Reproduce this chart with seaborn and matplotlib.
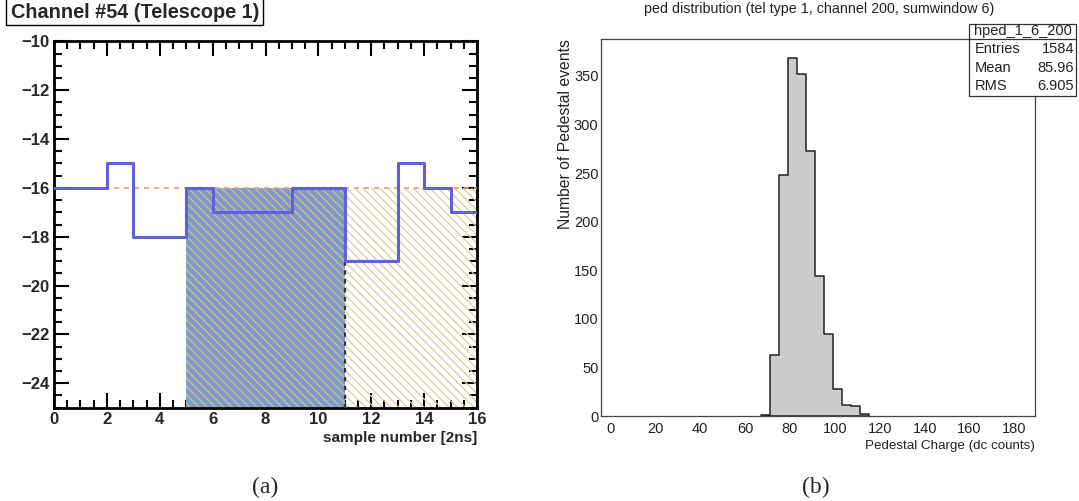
import numpy as np
import pandas as pd
import matplotlib
matplotlib.use("Agg")
import matplotlib.pyplot as plt
from matplotlib.patches import Rectangle
from matplotlib.ticker import MultipleLocator
import seaborn as sns

# (a) FADC trace of one channel, one value per sample
samples = np.arange(0, 17)
trace = [-16, -16, -15, -18, -18, -16, -17, -17, -17, -16, -16, -19, -19, -15, -16, -17]
pedestal = -16
window = (5, 11)      # integration window
tail = (11, 16)       # rest of the trace

# (b) pedestal distribution, 4 dc-count bins
ped_edges = list(range(67, 116, 4))
ped_counts = [1, 63, 248, 368, 352, 273, 144, 84, 28, 11, 10, 2]
stats_name = "hped_1_6_200"
stats_rows = [("Entries", "1584"), ("Mean", "85.96"), ("RMS", "6.905")]

sns.set_style("white")
plt.rcParams["font.family"] = ["Liberation Sans", "DejaVu Sans"]
plt.rcParams["hatch.linewidth"] = 0.9

fig = plt.figure(figsize=(10.79, 5.01), dpi=100)
W, H = 1079, 501

def px_axes(l, t, r, b):
    return fig.add_axes([l / W, 1 - b / H, (r - l) / W, (b - t) / H])

# ---------------- panel (a) ----------------
ax1 = px_axes(54, 41.3, 477, 407.7)
ax1.set_xlim(0, 16)
ax1.set_ylim(-25, -10)

# shaded regions under the pedestal level
ax1.fill_between(window, -25, pedestal, color="#7f9acb", lw=0, zorder=1)
ax1.fill_between(window, -25, pedestal, facecolor="none", edgecolor="#cfc48a",
                 hatch="\\" * 4, lw=0, zorder=2)
ax1.fill_between(tail, -25, pedestal, facecolor="none", edgecolor="#d8cf98",
                 hatch="\\" * 4, lw=0, zorder=2)
ax1.axhline(pedestal, color="#e0a080", ls=(0, (3, 3)), lw=1.2, zorder=3)
ax1.plot([window[1], window[1]], [-25, pedestal], color="#333333",
         ls=(0, (2, 2)), lw=1.6, zorder=4)

df_a = pd.DataFrame({"sample": samples, "adc": trace + [trace[-1]]})
sns.lineplot(data=df_a, x="sample", y="adc", drawstyle="steps-post",
             color="#6060d8", lw=2.2, ax=ax1, zorder=5)

ax1.set_ylabel("")
ax1.set_xlabel("sample number [2ns]", fontsize=11, fontweight="bold",
               ha="right", x=1.0, labelpad=3)
ax1.xaxis.set_major_locator(MultipleLocator(2))
ax1.xaxis.set_minor_locator(MultipleLocator(0.5))
ax1.yaxis.set_major_locator(MultipleLocator(2))
ax1.yaxis.set_minor_locator(MultipleLocator(0.5))
ax1.tick_params(which="both", direction="in", top=True, right=True,
                bottom=True, left=True, width=1.5, color="black")
ax1.tick_params(which="major", length=11, labelsize=12, pad=3)
ax1.tick_params(which="minor", length=6)
ax1.set_yticks(np.arange(-24, -9, 2))
ax1.set_yticklabels([f"\u2212{abs(v)}" for v in range(-24, -9, 2)])
for lab in ax1.get_xticklabels() + ax1.get_yticklabels():
    lab.set_fontweight("bold")
for s in ax1.spines.values():
    s.set_linewidth(2)
    s.set_color("black")

fig.text(11 / W, 1 - 12 / H, "Channel #54 (Telescope 1)", fontsize=14.3,
         fontweight="bold", va="center", ha="left")
fig.patches.append(Rectangle((6.3 / W, 1 - 24.5 / H), (263 - 6.3) / W, 26 / H,
                             transform=fig.transFigure, fill=False,
                             edgecolor="black", lw=1))

# ---------------- panel (b) ----------------
ax2 = px_axes(601.3, 38.9, 1035.2, 416)
centers = [e + 2 for e in ped_edges[:-1]]
df_b = pd.DataFrame({"charge": centers, "n": ped_counts})
sns.histplot(data=df_b, x="charge", weights="n", bins=ped_edges,
             element="step", color="#cccccc", alpha=1, edgecolor="#222222",
             linewidth=1.1, ax=ax2)
ax2.set_xlim(-4, 189.2)
ax2.set_ylim(0, 388)
ax2.xaxis.set_major_locator(MultipleLocator(20))
ax2.xaxis.set_minor_locator(MultipleLocator(5))
ax2.yaxis.set_major_locator(MultipleLocator(50))
ax2.yaxis.set_minor_locator(MultipleLocator(10))
ax2.tick_params(which="both", direction="in", color="#444444", width=0.9,
                labelsize=10.5, labelcolor="#222222")
ax2.tick_params(axis="y", which="major", length=14, pad=2)
ax2.tick_params(axis="y", which="minor", length=7.5)
ax2.tick_params(axis="x", which="major", length=11, pad=4)
ax2.tick_params(axis="x", which="minor", length=6.5)
for s in ax2.spines.values():
    s.set_linewidth(0.9)
    s.set_color("#444444")
ax2.set_xlabel("Pedestal Charge (dc counts)", fontsize=9.6, ha="right", x=1.0,
               labelpad=3, color="#222222")
ax2.set_ylabel("Number of Pedestal events", fontsize=11.3, ha="right", y=1.0,
               labelpad=1, color="#222222")
fig.text(819 / W, 1 - 9 / H, "ped distribution (tel type 1, channel 200, sumwindow 6)",
         fontsize=10.3, ha="center", va="center", color="#222222")

# stats box
bx0, bx1, by0, by1, byh = 969, 1076, 24.3, 96, 39
fig.patches.append(Rectangle((bx0 / W, 1 - by1 / H), (bx1 - bx0) / W, (by1 - by0) / H,
                             transform=fig.transFigure, facecolor="white",
                             edgecolor="#333333", lw=0.9, zorder=10))
fig.lines.append(plt.Line2D([bx0 / W, bx1 / W], [1 - byh / H, 1 - byh / H],
                            transform=fig.transFigure, color="#333333", lw=0.9,
                            zorder=11))
fig.text((bx0 + bx1) / 2 / W, 1 - 31.5 / H, stats_name, fontsize=10.5,
         ha="center", va="center", color="#222222", zorder=12)
for i, (k, v) in enumerate(stats_rows):
    yy = 1 - (49 + i * 18.5) / H
    fig.text((bx0 + 6) / W, yy, k, fontsize=10.5, ha="left", va="center",
             color="#222222", zorder=12)
    fig.text((bx1 - 2) / W, yy, v, fontsize=10.5, ha="right", va="center",
             color="#222222", zorder=12)

# captions
fig.text(265 / W, 1 - 487 / H, "(a)", fontsize=17, ha="center", va="center",
         family=["Liberation Serif", "DejaVu Serif"])
fig.text(815.5 / W, 1 - 487 / H, "(b)", fontsize=17, ha="center", va="center",
         family=["Liberation Serif", "DejaVu Serif"])

fig.savefig("out.png", dpi=100)
